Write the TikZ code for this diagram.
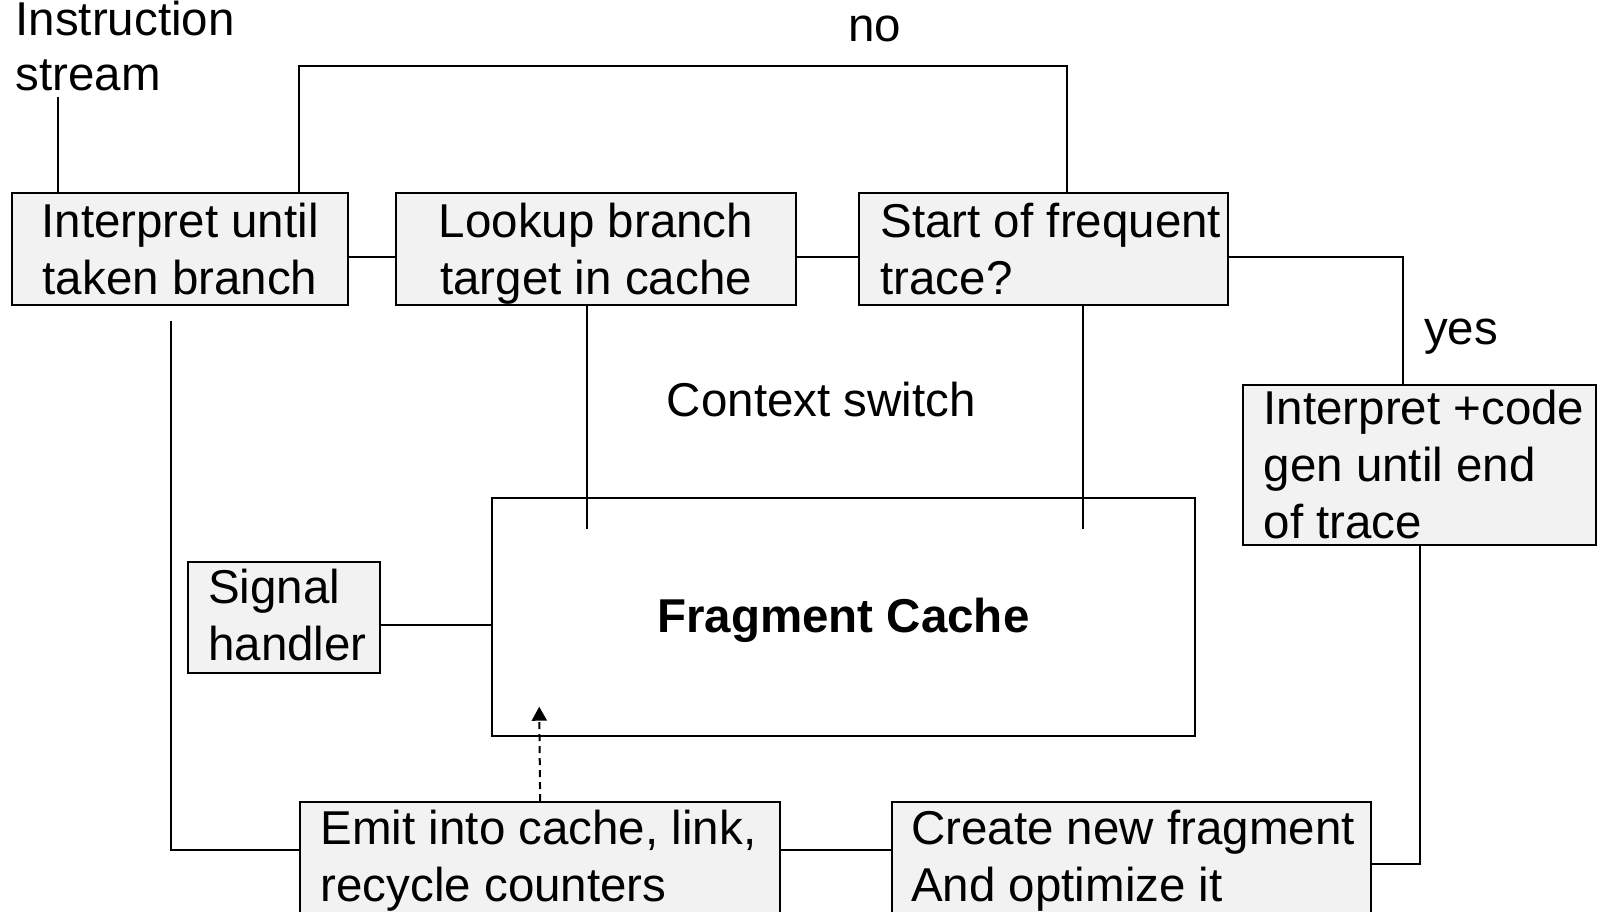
\documentclass[tikz,border=0pt]{standalone}
\usepackage{fontspec}
\setmainfont{Liberation Sans}
\usepackage{tikz}
\usetikzlibrary{arrows.meta}
\definecolor{boxgray}{HTML}{F2F2F2}

\begin{document}
\begin{tikzpicture}[x=1pt, y=-1pt,
		every node/.style={font=\fontsize{47.5pt}{57pt}\selectfont},
		stepbox/.style={draw, fill=boxgray, line width=2pt, anchor=north west, inner sep=0pt, align=center, minimum height=111.6pt},
		txt/.style={anchor=west, align=left, inner xsep=#1, inner ysep=0pt},
		link/.style={line width=2pt}]
	\useasboundingbox (0,0) rectangle (1606,911);
	% boxes
	\node[anchor=north west, align=left, inner sep=0pt] (stream) at (15.4,1) {Instruction\\[-2pt]stream};
	\node[stepbox, minimum width=336pt] (interp) at (11,192) {Interpret until\\taken branch};
	\node[stepbox, minimum width=399.4pt, label={[align=center, inner sep=0pt, yshift=-5pt]center:{Lookup branch\\target in cache}}] (lookup) at (395.4,192) {};
	\node[stepbox, minimum width=368.7pt, label={[txt=22pt]west:{Start of frequent\\trace?}}] (start) at (858.3,192) {};
	\node[stepbox, minimum width=352.3pt, minimum height=159.5pt, label={[txt=21pt]west:{Interpret +code\\gen until end\\of trace}}] (gen) at (1242.4,384) {};
	\node[stepbox, minimum width=192.5pt, label={[txt=21.5pt, yshift=2.5pt]west:{Signal\\handler}}] (signal) at (186.5,560.5) {};
	\node[stepbox, fill=white, minimum width=703.6pt, minimum height=238.6pt, label={[inner sep=0pt, text depth=0pt, yshift=2pt, font=\fontsize{47.5pt}{57pt}\selectfont\bfseries]center:Fragment Cache}] (cache) at (490.6,496.5) {};
	\node[stepbox, minimum width=480.3pt, label={[txt=21.5pt, yshift=-3pt]west:{Emit into cache, link,\\recycle counters}}] (emit) at (299,801) {};
	\node[stepbox, minimum width=479.4pt, label={[txt=20pt, yshift=-3pt]west:{Create new fragment\\And optimize it}}] (create) at (891,801) {};
	% labels
	\node[anchor=base] (no) at (874.6,41) {no};
	\node[anchor=base west] (yes) at (1420.5,344) {yes};
	\node[anchor=base] (ctx) at (821.4,416.4) {Context switch};
	% free ends
	\coordinate (src) at (58.4,97.3);
	\coordinate (top) at (1067.2,65.5);
	\coordinate (lk) at (586.9,528.5);
	\coordinate (st) at (1082.6,528.5);
	\coordinate (back) at (171,320.7);
	\coordinate (tip) at (539.2,706.7);
	% connectors
	\draw[link] (src) -- (src |- interp.north);
	\draw[link] (interp.north -| emit.west) |- (top) -- (top |- start.north);
	\draw[link] ([yshift=-8pt]interp.east) -- ([yshift=-8pt]lookup.west);
	\draw[link] ([yshift=-8pt]lookup.east) -- ([yshift=-8pt]start.west);
	\draw[link] ([yshift=-8pt]start.east) -| ([xshift=160.8pt]gen.north west);
	\draw[link] (gen.south) |- ([yshift=-6pt]create.east);
	\draw[link] (lk |- lookup.south) -- (lk);
	\draw[link] (st |- start.south) -- (st);
	\draw[link] ([yshift=-8pt]signal.east) -- ([yshift=-8pt]signal.east -| cache.west);
	\draw[link] (back) |- ([yshift=8.3pt]emit.west);
	\draw[link] ([yshift=8.3pt]emit.east) -- ([yshift=8.3pt]emit.east -| create.west);
	\draw[link, dash pattern=on 7pt off 5pt, -{Triangle[length=14pt,width=15pt]}] (emit.north) -- (tip);
\end{tikzpicture}
\end{document}
